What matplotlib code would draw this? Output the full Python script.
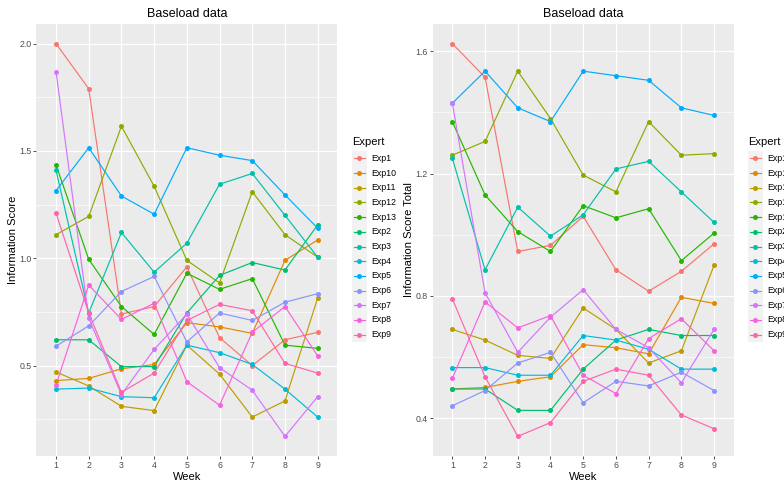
import matplotlib

matplotlib.use("Agg")
import matplotlib.pyplot as plt
from matplotlib.lines import Line2D
from matplotlib.patches import Rectangle

plt.rcParams["font.family"] = ["Liberation Sans", "DejaVu Sans"]

W, H = 784, 483

weeks = [1, 2, 3, 4, 5, 6, 7, 8, 9]
experts = ["Exp1", "Exp10", "Exp11", "Exp12", "Exp13", "Exp2", "Exp3",
           "Exp4", "Exp5", "Exp6", "Exp7", "Exp8", "Exp9"]
# ggplot default hue palette for 13 levels
expert_colors = ["#F8766D", "#E18A00", "#BE9C00", "#8CAB00", "#24B700", "#00BE70",
                 "#00C1AB", "#00BBDA", "#00ACFC", "#8B93FF", "#D575FE", "#F962DD",
                 "#FF65AC"]

# one row per expert, one column per week
info_score = [
    [2.00, 1.79, 0.74, 0.775, 0.96, 0.63, 0.50, 0.62, 0.655],
    [0.43, 0.44, 0.485, 0.505, 0.70, 0.68, 0.65, 0.99, 1.085],
    [0.47, 0.405, 0.31, 0.29, 0.595, 0.46, 0.26, 0.335, 0.815],
    [1.11, 1.195, 1.615, 1.335, 0.99, 0.885, 1.31, 1.11, 1.005],
    [1.435, 0.995, 0.775, 0.645, 0.93, 0.855, 0.905, 0.595, 0.58],
    [0.62, 0.62, 0.495, 0.495, 0.745, 0.92, 0.98, 0.945, 1.155],
    [1.41, 0.745, 1.12, 0.935, 1.07, 1.345, 1.395, 1.20, 1.005],
    [0.39, 0.395, 0.355, 0.35, 0.595, 0.56, 0.505, 0.39, 0.26],
    [1.315, 1.515, 1.29, 1.205, 1.515, 1.48, 1.455, 1.295, 1.14],
    [0.59, 0.685, 0.845, 0.915, 0.61, 0.745, 0.71, 0.795, 0.835],
    [1.87, 0.72, 0.365, 0.575, 0.74, 0.49, 0.385, 0.17, 0.355],
    [0.41, 0.875, 0.715, 0.79, 0.425, 0.315, 0.655, 0.775, 0.545],
    [1.21, 0.745, 0.375, 0.465, 0.71, 0.785, 0.755, 0.51, 0.465],
]

info_score_total = [
    [1.625, 1.515, 0.945, 0.965, 1.06, 0.885, 0.815, 0.88, 0.97],
    [0.495, 0.50, 0.52, 0.535, 0.64, 0.63, 0.61, 0.795, 0.775],
    [0.69, 0.655, 0.605, 0.595, 0.76, 0.69, 0.58, 0.62, 0.90],
    [1.26, 1.305, 1.535, 1.38, 1.195, 1.14, 1.37, 1.26, 1.265],
    [1.37, 1.13, 1.01, 0.945, 1.095, 1.055, 1.085, 0.915, 1.005],
    [0.495, 0.495, 0.425, 0.425, 0.56, 0.655, 0.69, 0.67, 0.67],
    [1.25, 0.885, 1.09, 0.995, 1.065, 1.215, 1.24, 1.14, 1.04],
    [0.565, 0.565, 0.54, 0.54, 0.67, 0.655, 0.625, 0.56, 0.56],
    [1.43, 1.535, 1.415, 1.37, 1.535, 1.52, 1.505, 1.415, 1.39],
    [0.44, 0.49, 0.58, 0.615, 0.45, 0.52, 0.505, 0.55, 0.49],
    [1.43, 0.81, 0.615, 0.73, 0.82, 0.69, 0.63, 0.515, 0.69],
    [0.53, 0.78, 0.695, 0.735, 0.54, 0.48, 0.66, 0.725, 0.62],
    [0.79, 0.535, 0.34, 0.385, 0.52, 0.56, 0.54, 0.41, 0.365],
]

left_ticks = [0.5, 1.0, 1.5, 2.0]
left_minor = [0.25, 0.75, 1.25, 1.75]
right_ticks = [0.4, 0.8, 1.2, 1.6]
right_minor = [0.6, 1.0, 1.4]


def px_box(x0, x1, y0, y1):
    return [x0 / W, 1 - y1 / H, (x1 - x0) / W, (y1 - y0) / H]


def draw_panel(fig, box, data, ylabel, ticks, minor):
    ax = fig.add_axes(box)
    ax.set_facecolor("#EBEBEB")
    for s in ax.spines.values():
        s.set_visible(False)
    # lines first, then points on top (geom_line + geom_point)
    for row, col in zip(data, expert_colors):
        ax.plot(weeks, row, color=col, lw=0.85, zorder=3)
    for row, col in zip(data, expert_colors):
        ax.plot(weeks, row, ls="none", marker="o", ms=3.6, mfc=col, mec=col,
                mew=0, zorder=4)
    lo = min(min(r) for r in data)
    hi = max(max(r) for r in data)
    pad = 0.05 * (hi - lo)
    ax.set_ylim(lo - pad, hi + pad)
    ax.set_xlim(0.4, 9.6)
    ax.set_xticks(weeks)
    ax.set_yticks(ticks)
    ax.set_yticklabels([f"{t:.1f}" for t in ticks])
    ax.set_yticks(minor, minor=True)
    ax.grid(which="major", color="white", lw=0.9, zorder=0)
    ax.grid(which="minor", axis="y", color="white", lw=0.45, zorder=0)
    ax.set_axisbelow(True)
    ax.tick_params(which="major", length=2.2, width=0.6, color="#333333",
                   labelcolor="#4D4D4D", labelsize=6.3, pad=1.5)
    ax.tick_params(which="minor", length=0)
    ax.set_title("Baseload data", fontsize=9, pad=5)
    ax.set_xlabel("Week", fontsize=8, labelpad=1.5)
    ax.set_ylabel(ylabel, fontsize=8, labelpad=1)
    return ax


def draw_legend(fig, x_key, y_title):
    step = 14.7
    y_first = y_title + 16.6
    key_w = 14.7
    fig.text(x_key / W, 1 - y_title / H, "Expert", fontsize=8,
             ha="left", va="center")
    fig.patches.append(Rectangle(
        (x_key / W, 1 - (y_first + step * (len(experts) - 0.5)) / H),
        key_w / W, step * len(experts) / H, transform=fig.transFigure,
        facecolor="#F2F2F2", edgecolor="none"))
    for i, (name, col) in enumerate(zip(experts, expert_colors)):
        y = 1 - (y_first + i * step) / H
        fig.lines.append(Line2D([(x_key + 1.5) / W, (x_key + key_w - 1.5) / W], [y, y],
                                transform=fig.transFigure, color=col, lw=0.85))
        fig.lines.append(Line2D([(x_key + key_w / 2) / W], [y], transform=fig.transFigure,
                                ls="none", marker="o", ms=3.6, mfc=col, mec=col, mew=0))
        fig.text((x_key + key_w + 4.5) / W, y, name, fontsize=6.3,
                 ha="left", va="center")


fig = plt.figure(figsize=(W / 100, H / 100), dpi=100)
fig.patch.set_facecolor("white")

draw_panel(fig, px_box(36.4, 337.3, 24, 456), info_score,
           "Information Score", left_ticks, left_minor)
draw_panel(fig, px_box(432.7, 733.7, 24, 456), info_score_total,
           "Information Score Total", right_ticks, right_minor)

draw_legend(fig, 352, 141.7)
draw_legend(fig, 748, 141.7)

fig.savefig("out.png", dpi=100)
